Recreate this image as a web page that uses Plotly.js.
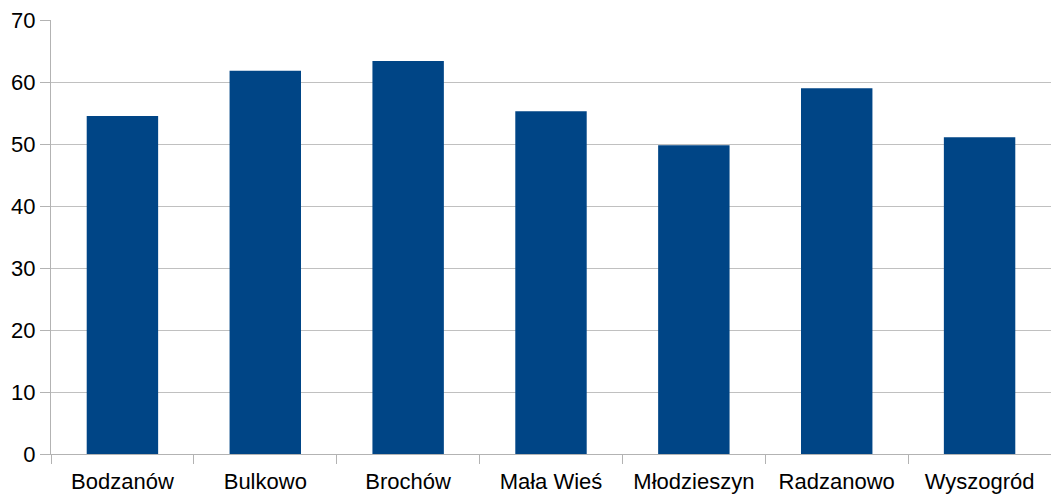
<!DOCTYPE html>
<html>
<head>
<meta charset="utf-8">
<script src="https://cdn.plot.ly/plotly-3.0.1.min.js"></script>
<style>html,body{margin:0;padding:0;background:#fff;}#chart{width:1051px;height:496px;}</style>
</head>
<body>
<div id="chart"></div>
<script>
const categories = ["Bodzanów", "Bulkowo", "Brochów", "Mała Wieś", "Młodzieszyn", "Radzanowo", "Wyszogród"];
const values = [54.5, 61.8, 63.4, 55.3, 49.8, 59.0, 51.1];
const yTicks = [0, 10, 20, 30, 40, 50, 60, 70];

const trace = {
  type: "bar",
  x: categories,
  y: values,
  marker: {color: "#004586"},
  hoverinfo: "x+y"
};

const layout = {
  width: 1051,
  height: 496,
  margin: {l: 51, r: 0, t: 20, b: 42},
  paper_bgcolor: "#ffffff",
  plot_bgcolor: "#ffffff",
  bargap: 0.5,
  showlegend: false,
  font: {family: "Liberation Sans, Arial, sans-serif", size: 22, color: "#000"},
  xaxis: {
    type: "category",
    tickson: "boundaries",
    ticks: "outside",
    ticklen: 9,
    tickcolor: "#b3b3b3",
    tickwidth: 1,
    ticklabelstandoff: 8,
    showline: true,
    linecolor: "#b3b3b3",
    linewidth: 1,
    showgrid: false,
    tickfont: {size: 22}
  },
  yaxis: {
    range: [0, 70],
    tickvals: yTicks,
    ticks: "outside",
    ticklen: 10,
    tickcolor: "#b3b3b3",
    showline: true,
    linecolor: "#b3b3b3",
    showgrid: true,
    gridcolor: "#c0c0c0",
    gridwidth: 1,
    zeroline: false,
    tickfont: {size: 22}
  }
};

Plotly.newPlot("chart", [trace], layout, {displayModeBar: false, staticPlot: true});
</script>
</body>
</html>
